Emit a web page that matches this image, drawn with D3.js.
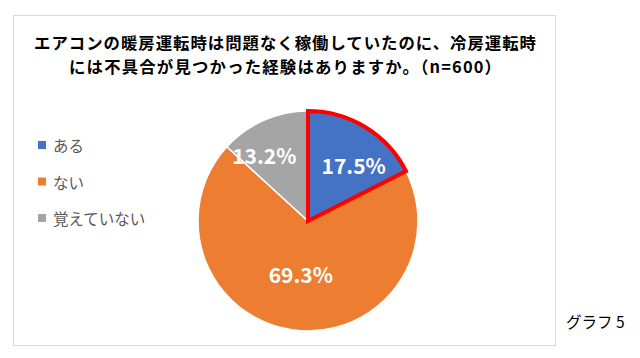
<!DOCTYPE html>
<html><head><meta charset="utf-8">
<script src="https://cdn.jsdelivr.net/npm/d3@7"></script>
<style>body{margin:0;background:#fff}svg{display:block}</style>
</head><body>
<script>
const categories = ["ある", "ない", "覚えていない"];
const values = [17.5, 69.3, 13.2];
const labels = ["17.5%", "69.3%", "13.2%"];
const colors = ["#4472C4", "#ED7D31", "#A5A5A5"];
const titleLines = ["エアコンの暖房運転時は問題なく稼働していたのに、冷房運転時", "には不具合が見つかった経験はありますか。（n=600）"];
const note = "グラフ 5";

const W = 640, H = 358;
const font = "'Noto Sans CJK JP', 'Noto Sans', sans-serif";
const svg = d3.select("body").append("svg").attr("width", W).attr("height", H);

svg.append("rect").attr("x", 13.5).attr("y", 15.5).attr("width", 542).attr("height", 330)
  .attr("fill", "#fff").attr("stroke", "#D9D9D9").attr("stroke-width", 1);

const titleWidths = [502, 432];
svg.selectAll("text.title").data(titleLines).enter().append("text")
  .attr("class", "title").attr("x", 285).attr("y", (d, i) => 49 + i * 24)
  .attr("text-anchor", "middle").attr("font-family", font).attr("font-weight", "bold")
  .attr("font-size", 16.4).attr("fill", "#000")
  .attr("textLength", (d, i) => titleWidths[i]).attr("lengthAdjust", "spacing")
  .text(d => d);

const cx = 308, cy = 221, r = 110;
const pie = d3.pie().sort(null).value(d => d)(values);
const arc = d3.arc().innerRadius(0).outerRadius(r);
const g = svg.append("g").attr("transform", `translate(${cx},${cy})`);
g.selectAll("path").data(pie).enter().append("path")
  .attr("d", arc).attr("fill", (d, i) => colors[i])
  .attr("stroke", "#fff").attr("stroke-width", 1.5).attr("stroke-linejoin", "miter");
// highlighted slice
g.append("path").datum(pie[0]).attr("d", arc).attr("fill", colors[0])
  .attr("stroke", "#FF0000").attr("stroke-width", 4).attr("stroke-linejoin", "miter");

// label placement (layout): radius fraction and angular shift per slice
const labelRadius = [0.66, 0.49, 0.72];
const labelShift = [0.13, 0, -0.17];
g.selectAll("text.lbl").data(pie).enter().append("text")
  .attr("class", "lbl")
  .attr("transform", (d, i) => {
    const a = (d.startAngle + d.endAngle) / 2 + labelShift[i];
    const rr = r * labelRadius[i];
    return `translate(${rr * Math.sin(a)},${-rr * Math.cos(a)})`;
  })
  .attr("text-anchor", "middle").attr("dominant-baseline", "central")
  .attr("font-family", font).attr("font-weight", "bold").attr("font-size", 21)
  .attr("fill", "#fff").text((d, i) => labels[i]);

const leg = svg.selectAll("g.leg").data(categories).enter().append("g")
  .attr("transform", (d, i) => `translate(38,${145 + i * 36.5})`);
leg.append("rect").attr("x", 0).attr("y", -4).attr("width", 8).attr("height", 8)
  .attr("fill", (d, i) => colors[i]);
leg.append("text").attr("x", 15).attr("y", 0).attr("dominant-baseline", "central")
  .attr("font-family", font).attr("font-size", 15.5).attr("fill", "#595959").text(d => d);

svg.append("text").attr("x", 566).attr("y", 328).attr("font-family", font)
  .attr("font-size", 15.5).attr("fill", "#000").text(note);
</script>
</body></html>
